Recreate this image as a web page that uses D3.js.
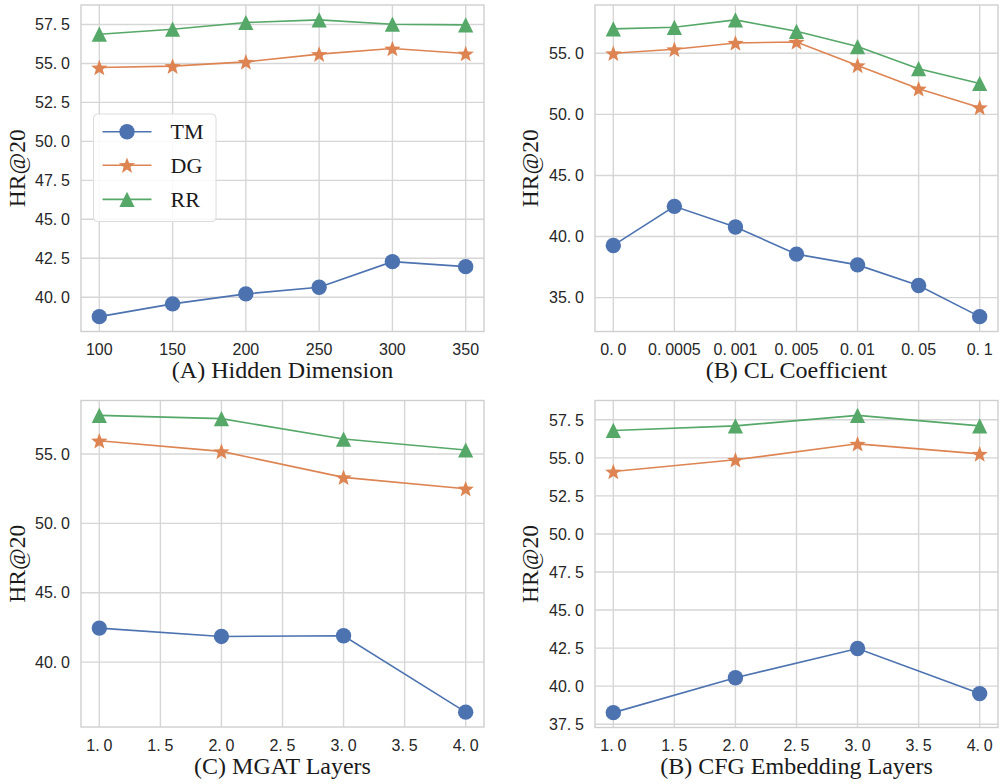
<!DOCTYPE html>
<html>
<head>
<meta charset="utf-8">
<script src="https://cdn.jsdelivr.net/npm/d3@7"></script>
<style>
  html, body { margin: 0; padding: 0; background: #fff; }
  svg { display: block; }
  .serif { font-family: "Liberation Serif", "Times New Roman", Times, "DejaVu Serif", serif; }
  .tick { font-family: "Liberation Sans", Arial, sans-serif; }
</style>
</head>
<body>
<svg id="chart" width="1000" height="784"></svg>
<script>
// ---------------- DATA ----------------
const seriesNames = ["TM", "DG", "RR"];

const hiddenDims = [100, 150, 200, 250, 300, 350];
const hiddenTM = [38.75, 39.57, 40.21, 40.64, 42.28, 41.96];
const hiddenDG = [54.74, 54.83, 55.10, 55.60, 55.96, 55.64];
const hiddenRR = [56.88, 57.20, 57.63, 57.80, 57.52, 57.48];
const hiddenXTicks = [100, 150, 200, 250, 300, 350];
const hiddenYTicks = [40.0, 42.5, 45.0, 47.5, 50.0, 52.5, 55.0, 57.5];

const clCoefs = ["0.0", "0.0005", "0.001", "0.005", "0.01", "0.05", "0.1"];
const clTM = [39.27, 42.47, 40.78, 38.56, 37.68, 35.99, 33.44];
const clDG = [55.00, 55.33, 55.85, 55.93, 54.01, 52.10, 50.57];
const clRR = [57.00, 57.13, 57.74, 56.80, 55.55, 53.74, 52.53];
const clYTicks = [35.0, 40.0, 45.0, 50.0, 55.0];

const mgatLayers = [1, 2, 3, 4];
const mgatTM = [42.45, 41.85, 41.90, 36.39];
const mgatDG = [55.96, 55.19, 53.32, 52.50];
const mgatRR = [57.79, 57.55, 56.08, 55.29];
const mgatXTicks = [1.0, 1.5, 2.0, 2.5, 3.0, 3.5, 4.0];
const mgatYTicks = [40.0, 45.0, 50.0, 55.0];

const cfgLayers = [1, 2, 3, 4];
const cfgTM = [38.26, 40.55, 42.47, 39.51];
const cfgDG = [54.10, 54.87, 55.92, 55.26];
const cfgRR = [56.80, 57.10, 57.79, 57.10];
const cfgXTicks = [1.0, 1.5, 2.0, 2.5, 3.0, 3.5, 4.0];
const cfgYTicks = [37.5, 40.0, 42.5, 45.0, 47.5, 50.0, 52.5, 55.0, 57.5];

const xLabels = ["(A) Hidden Dimension", "(B) CL Coefficient", "(C) MGAT Layers", "(B) CFG Embedding Layers"];
const yLabel = "HR@20";

// ---------------- STYLE ----------------
const colors = ["#4C72B0", "#DD8452", "#55A868"];
const gridColor = "#d6d6d6";

const svg = d3.select("#chart");

const panels = [
  { box: [81, 5, 484, 331.5], x: hiddenDims, xCat: false, xTicks: hiddenXTicks, xFmt: d3.format("d"),
    series: [hiddenTM, hiddenDG, hiddenRR], yTicks: hiddenYTicks, label: xLabels[0], ylabX: 25, legend: true },
  { box: [595, 5, 998, 331.5], x: clCoefs, xCat: true, xTicks: clCoefs, xFmt: d => d,
    series: [clTM, clDG, clRR], yTicks: clYTicks, label: xLabels[1], ylabX: 538 },
  { box: [81, 400.5, 484, 727], x: mgatLayers, xCat: false, xTicks: mgatXTicks, xFmt: d3.format(".1f"),
    series: [mgatTM, mgatDG, mgatRR], yTicks: mgatYTicks, label: xLabels[2], ylabX: 25 },
  { box: [595, 400.5, 998, 727.5], x: cfgLayers, xCat: false, xTicks: cfgXTicks, xFmt: d3.format(".1f"),
    series: [cfgTM, cfgDG, cfgRR], yTicks: cfgYTicks, label: xLabels[3], ylabX: 538 }
];

function padExtent(arr) {
  const [a, b] = d3.extent(arr);
  const m = (b - a) * 0.05;
  return [a - m, b + m];
}

// tick text with CJK-like wide period: "57.5" rendered as "57." + spaced "5"
function tickText(sel, str) {
  const parts = String(str).split(".");
  if (parts.length === 2) {
    sel.append("tspan").text(parts[0] + ".");
    sel.append("tspan").attr("dx", 3.8).text(parts[1]);
  } else {
    sel.text(str);
  }
}

function markerPath(kind) {
  if (kind === 1) {
    const R = 8.6, r = R * 0.42;
    const pts = [];
    for (let i = 0; i < 10; i++) {
      const ang = -Math.PI / 2 + i * Math.PI / 5;
      const rad = i % 2 === 0 ? R : r;
      pts.push([rad * Math.cos(ang), rad * Math.sin(ang)]);
    }
    return "M" + pts.map(p => p[0].toFixed(2) + "," + p[1].toFixed(2)).join("L") + "Z";
  }
  const h = 7.6;
  return `M0,${-h}L${h},${h}L${-h},${h}Z`;
}

function drawMarker(g, kind, cx, cy, color) {
  if (kind === 0) {
    g.append("circle").attr("cx", cx).attr("cy", cy).attr("r", 7.7).attr("fill", color);
  } else {
    g.append("path").attr("d", markerPath(kind)).attr("transform", `translate(${cx},${cy + (kind === 1 ? 0.8 : 0)})`).attr("fill", color);
  }
}

panels.forEach(p => {
  const [x0, y0, x1, y1] = p.box;
  const g = svg.append("g");

  let xs;
  if (p.xCat) {
    xs = d3.scalePoint().domain(p.x).range([x0, x1]).padding(0.3);
  } else {
    xs = d3.scaleLinear().domain(padExtent(p.x)).range([x0, x1]);
  }
  const allY = [].concat(...p.series);
  const ys = d3.scaleLinear().domain(padExtent(allY)).range([y1, y0]);

  // grid
  const grid = g.append("g");
  p.xTicks.forEach(t => {
    grid.append("line").attr("x1", xs(t)).attr("x2", xs(t)).attr("y1", y0).attr("y2", y1)
      .attr("stroke", gridColor).attr("stroke-width", 1.4);
  });
  p.yTicks.forEach(t => {
    grid.append("line").attr("x1", x0).attr("x2", x1).attr("y1", ys(t)).attr("y2", ys(t))
      .attr("stroke", gridColor).attr("stroke-width", 1.4);
  });

  // axes via d3 (tick lines hidden, labels custom)
  const xAxis = d3.axisBottom(xs).tickValues(p.xTicks).tickSize(0).tickPadding(0).tickFormat("");
  const yAxis = d3.axisLeft(ys).tickValues(p.yTicks).tickSize(0).tickPadding(0).tickFormat("");
  g.append("g").attr("transform", `translate(0,${y1})`).call(xAxis).call(a => a.select(".domain").remove());
  g.append("g").attr("transform", `translate(${x0},0)`).call(yAxis).call(a => a.select(".domain").remove());

  // tick labels
  p.xTicks.forEach(t => {
    const tx = g.append("text").attr("class", "tick").attr("x", xs(t)).attr("y", y1 + 23.5)
      .attr("text-anchor", "middle").attr("font-size", 16).attr("fill", "#262626");
    tickText(tx, p.xFmt(t));
  });
  p.yTicks.forEach(t => {
    const tx = g.append("text").attr("class", "tick").attr("x", x0 - 11).attr("y", ys(t)).attr("dy", "0.36em")
      .attr("text-anchor", "end").attr("font-size", 16).attr("fill", "#262626");
    tickText(tx, d3.format(".1f")(t));
  });

  // lines and markers
  p.series.forEach((vals, si) => {
    const pts = vals.map((v, i) => [xs(p.x[i]), ys(v)]);
    g.append("path").attr("d", d3.line()(pts)).attr("fill", "none")
      .attr("stroke", colors[si]).attr("stroke-width", 1.6);
    pts.forEach(pt => drawMarker(g, si, pt[0], pt[1], colors[si]));
  });

  // spines
  g.append("rect").attr("x", x0).attr("y", y0).attr("width", x1 - x0).attr("height", y1 - y0)
    .attr("fill", "none").attr("stroke", "#cfcfcf").attr("stroke-width", 1.4);

  // axis labels
  g.append("text").attr("class", "serif").attr("x", (x0 + x1) / 2).attr("y", y1 + 46.5).attr("text-anchor", "middle")
    .attr("font-size", 24).attr("fill", "#1a1a1a").text(p.label);
  g.append("text").attr("class", "serif").attr("transform", `translate(${p.ylabX},${(y0 + y1) / 2}) rotate(-90)`)
    .attr("text-anchor", "middle").attr("font-size", 23.5)
    .attr("fill", "#1a1a1a").text(yLabel);

  // legend
  if (p.legend) {
    const lg = g.append("g");
    lg.append("rect").attr("x", 93.5).attr("y", 114).attr("width", 122.5).attr("height", 107.5)
      .attr("rx", 4).attr("fill", "#ffffff").attr("fill-opacity", 0.85)
      .attr("stroke", "#dcdcdc").attr("stroke-width", 1);
    const rowsY = [131.7, 165.2, 199.4];
    seriesNames.forEach((name, si) => {
      const yy = rowsY[si];
      lg.append("line").attr("x1", 102.5).attr("x2", 151.5).attr("y1", yy).attr("y2", yy)
        .attr("stroke", colors[si]).attr("stroke-width", 1.6);
      drawMarker(lg, si, 127, yy, colors[si]);
      lg.append("text").attr("class", "serif").attr("x", 170.5).attr("y", yy + 7.6)
        .attr("font-size", 22).attr("fill", "#1a1a1a").text(name);
    });
  }
});
</script>
</body>
</html>
